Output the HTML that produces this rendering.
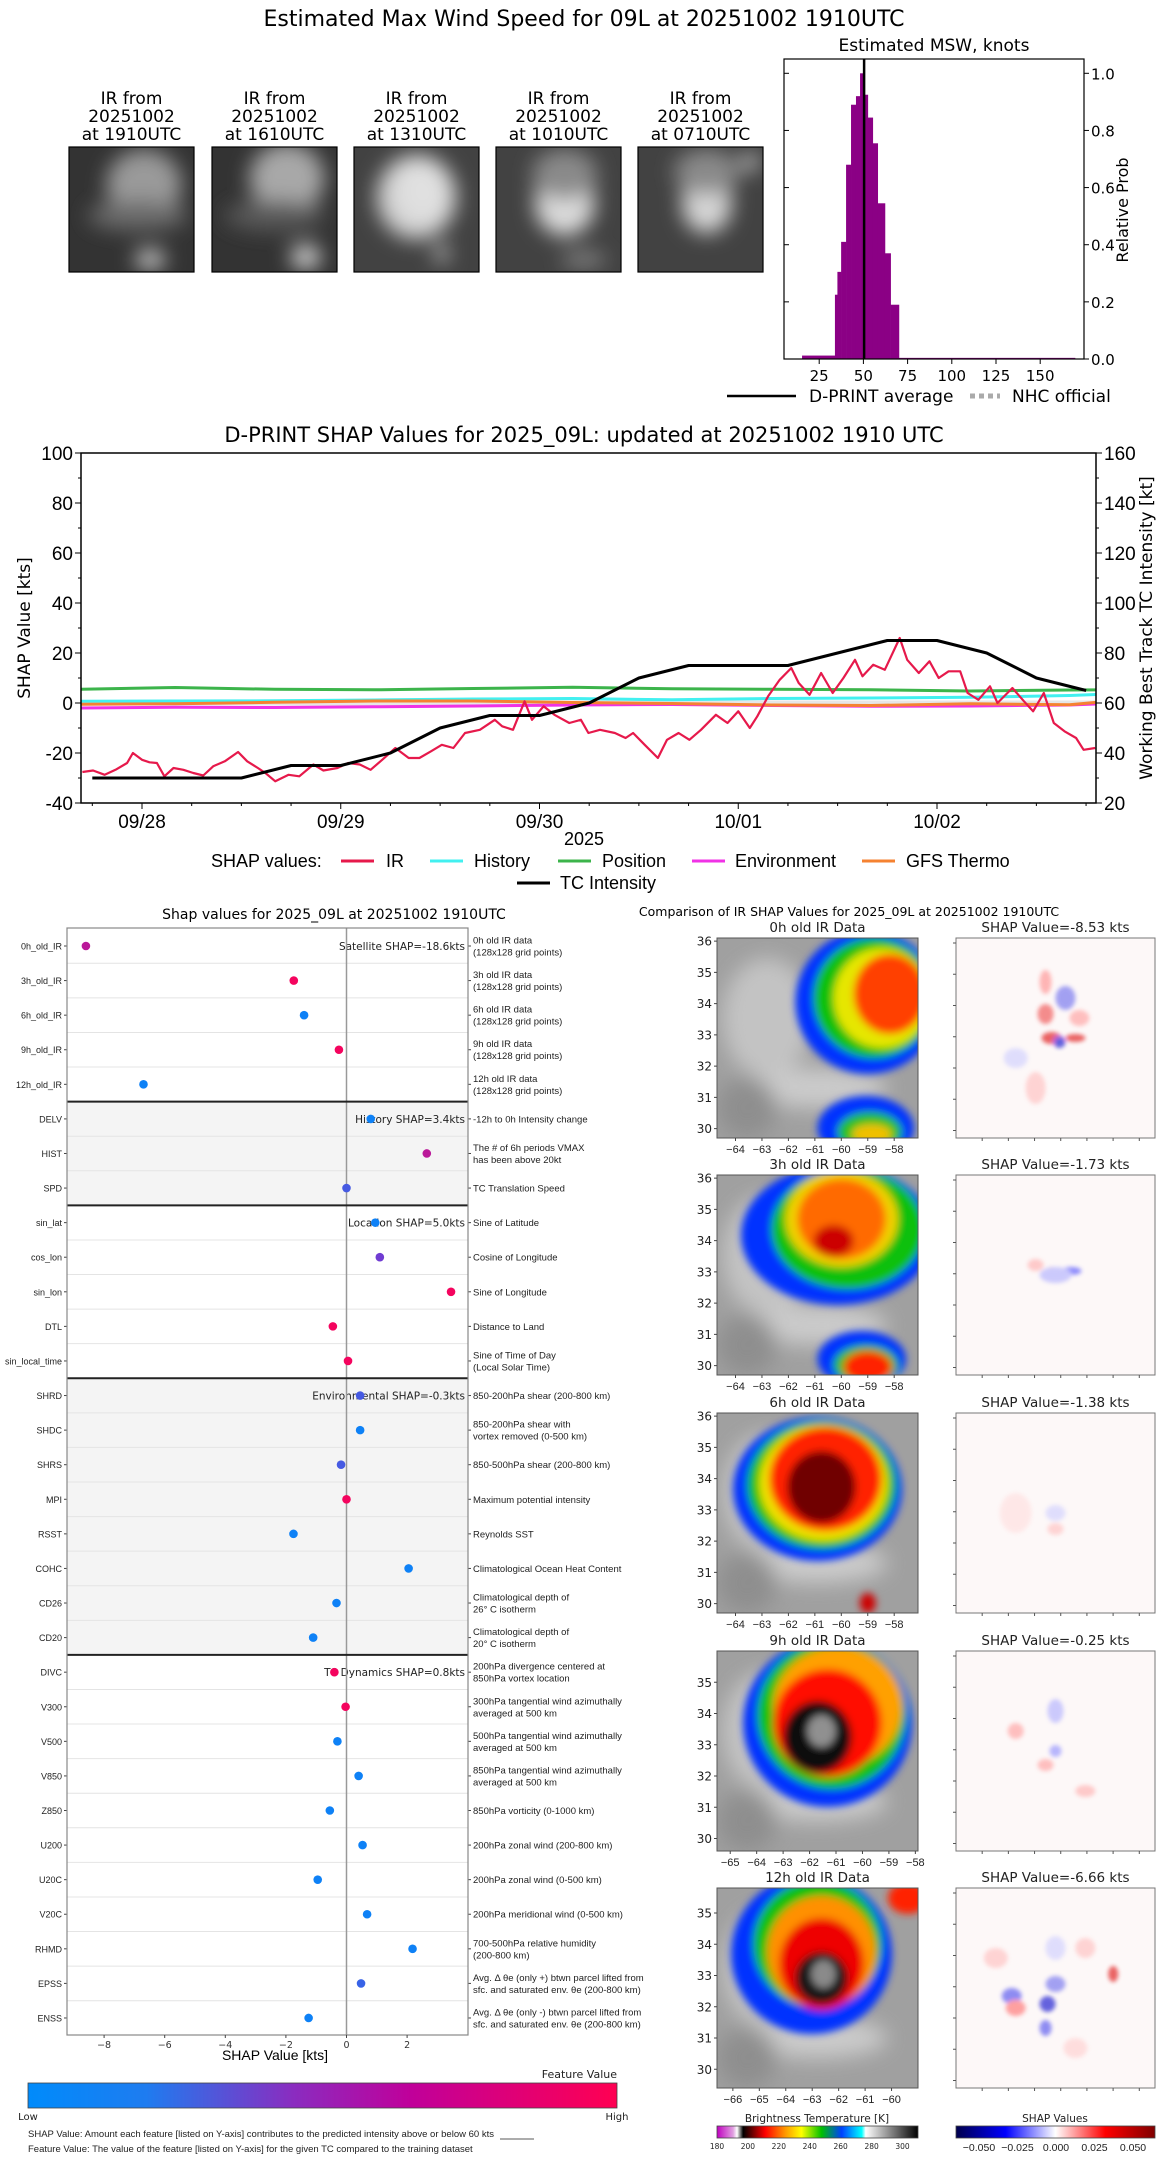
<!DOCTYPE html>
<html><head><meta charset="utf-8">
<style>
html,body{margin:0;padding:0;background:#fff;}
svg{display:block;font-family:"DejaVu Sans","Liberation Sans",sans-serif;}
</style></head>
<body>
<svg id="root" width="1168" height="2158" viewBox="0 0 1168 2158" xmlns="http://www.w3.org/2000/svg">
<defs>
<filter id="blur4" x="-20%" y="-20%" width="140%" height="140%"><feGaussianBlur stdDeviation="4"/></filter>
<filter id="blur2" x="-20%" y="-20%" width="140%" height="140%"><feGaussianBlur stdDeviation="2"/></filter>
<filter id="blur8" x="-30%" y="-30%" width="160%" height="160%"><feGaussianBlur stdDeviation="10"/></filter>
<linearGradient id="fvgrad" x1="0" x2="1" y1="0" y2="0">
<stop offset="0" stop-color="#008bfb"/><stop offset="0.2" stop-color="#1e7cf0"/><stop offset="0.45" stop-color="#8a2cc0"/><stop offset="0.65" stop-color="#c0009a"/><stop offset="1" stop-color="#ff0052"/></linearGradient>
<linearGradient id="btgrad" x1="0" x2="1" y1="0" y2="0">
<stop offset="0" stop-color="#c000c0"/><stop offset="0.08" stop-color="#e0a0e0"/><stop offset="0.1" stop-color="#fff"/><stop offset="0.13" stop-color="#000"/><stop offset="0.24" stop-color="#ff0000"/><stop offset="0.34" stop-color="#ff9900"/><stop offset="0.42" stop-color="#ffff00"/><stop offset="0.52" stop-color="#00c000"/><stop offset="0.62" stop-color="#0040ff"/><stop offset="0.72" stop-color="#00ffff"/><stop offset="0.74" stop-color="#ffffff"/><stop offset="1" stop-color="#000"/></linearGradient>
<linearGradient id="shgrad" x1="0" x2="1" y1="0" y2="0">
<stop offset="0" stop-color="#00004c"/><stop offset="0.25" stop-color="#0000ff"/><stop offset="0.5" stop-color="#ffffff"/><stop offset="0.75" stop-color="#ff0000"/><stop offset="1" stop-color="#800000"/></linearGradient>
</defs>
<g id="topsec"></g>
<g id="tssec"></g>
<g id="dotsec"></g>
<g id="irsec"></g>
</svg>
<script>
// ===== Histogram data =====
const histEdges = [15.3, 33.9, 35.3, 37.4, 40.2, 43.0, 45.8, 48.1, 50.4, 52.5, 55.3, 58.1, 62.2, 65.4, 70.1, 169.7];
const histProbs = [0.012, 0.225, 0.305, 0.41, 0.68, 0.89, 0.92, 1.0, 0.925, 0.845, 0.755, 0.545, 0.37, 0.19, 0.004];
const histMean = 50.4;
const histXTicks = [25, 50, 75, 100, 125, 150];
const histYTicks = [0.0, 0.2, 0.4, 0.6, 0.8, 1.0];
const thumbLabels = ["20251002|at 1910UTC", "20251002|at 1610UTC", "20251002|at 1310UTC", "20251002|at 1010UTC", "20251002|at 0710UTC"];

// ===== Time series data (hours since 2025-09-28 00Z) =====
const irHours = [-7.2,-5.9,-4.5,-3.2,-1.8,-1.1,0,0.9,1.8,2.7,3.8,5.0,6.2,7.4,8.6,10.0,11.6,12.7,14.0,14.9,16.1,17.7,19.0,20.7,21.9,23.6,24.9,26.3,27.6,29.0,30.6,32.2,33.5,34.9,36.2,37.6,39.0,40.8,42.6,43.5,44.8,46.2,47.1,48.5,49.8,51.6,53.0,53.9,55.3,57.1,58.4,59.3,60.7,62.3,63.4,64.8,66.1,67.5,69.3,70.7,72.0,73.4,74.3,75.6,77.0,78.4,79.3,80.6,82.0,83.4,84.7,86.1,87.0,88.3,89.7,91.5,92.4,93.8,95.1,96.2,97.4,98.8,99.7,101.0,102.4,103.3,105.1,106.5,107.6,108.9,110.1,111.4,112.8,113.7,115.1];
const irShap = [-27.6,-27,-28.7,-26.7,-24,-20,-22.7,-23.7,-24,-29.3,-26,-26.7,-28,-29,-25.3,-23.3,-19.6,-23.3,-26,-28,-31.3,-28.7,-29.3,-24.6,-27,-26,-24,-24.6,-26.7,-22.7,-18,-22,-22,-19.3,-16.7,-18,-12,-10.7,-6.7,-9.3,-10.7,0.7,-6.7,-1.3,-4.7,-8,-6.7,-12,-10.7,-12,-14,-12,-16.7,-22,-14.7,-12,-14.7,-10.7,-4.7,-8,-3.3,-10,-5.3,2.7,9.3,14,8,3.3,12,4,10,17.3,10.7,15.3,13.3,26,17.3,12,16.7,10,12.7,12.7,4,1.3,6.7,0,6,0.7,-3.3,4,-8,-11.3,-14,-18.7,-18];
const smoothHours = [-8, 4, 16, 28, 40, 52, 64, 76, 88, 100, 112, 116];
const historyShap = [0.7, 0.8, 0.9, 1.2, 1.6, 1.8, 1.3, 1.8, 2.0, 2.3, 3.0, 3.5];
const positionShap = [5.5, 6.2, 5.5, 5.3, 5.8, 6.3, 5.7, 5.5, 5.3, 4.8, 5.2, 5.3];
const envShap = [-2.0, -1.7, -1.8, -1.5, -1.2, -0.8, -0.6, -1.0, -1.3, -1.2, -0.8, -0.3];
const gfsShap = [-0.5, -0.3, 0.3, 0.8, 0.8, 0.2, -0.2, -0.8, -1.0, -0.3, -0.7, 0.5];
const tcHours = [-6, 0, 6, 12, 18, 24, 30, 36, 42, 48, 54, 60, 66, 72, 78, 84, 90, 96, 102, 108, 114];
const tcIntensity = [30, 30, 30, 30, 35, 35, 40, 50, 55, 55, 60, 70, 75, 75, 75, 80, 85, 85, 80, 70, 65];
const tsDateLabels = ["09/28", "09/29", "09/30", "10/01", "10/02"];
const tsLeftTicks = [-40, -20, 0, 20, 40, 60, 80, 100];
const tsRightTicks = [20, 40, 60, 80, 100, 120, 140, 160];

// ===== SHAP dot panel =====
const featNames = ["0h_old_IR","3h_old_IR","6h_old_IR","9h_old_IR","12h_old_IR","DELV","HIST","SPD","sin_lat","cos_lon","sin_lon","DTL","sin_local_time","SHRD","SHDC","SHRS","MPI","RSST","COHC","CD26","CD20","DIVC","V300","V500","V850","Z850","U200","U20C","V20C","RHMD","EPSS","ENSS"];
const featShap = [-8.6,-1.74,-1.4,-0.25,-6.7,0.8,2.65,0.0,0.95,1.1,3.45,-0.45,0.05,0.45,0.45,-0.18,0.0,-1.75,2.05,-0.33,-1.1,-0.4,-0.03,-0.3,0.4,-0.55,0.53,-0.95,0.68,2.18,0.48,-1.25];
const featValue = [0.7,0.95,0.05,0.95,0.05,0.05,0.7,0.25,0.05,0.4,0.95,0.95,0.95,0.25,0.05,0.25,0.95,0.05,0.05,0.05,0.05,0.95,0.95,0.05,0.05,0.05,0.05,0.05,0.05,0.05,0.2,0.05];
const featDesc = ["0h old IR data|(128x128 grid points)","3h old IR data|(128x128 grid points)","6h old IR data|(128x128 grid points)","9h old IR data|(128x128 grid points)","12h old IR data|(128x128 grid points)","-12h to 0h Intensity change","The # of 6h periods VMAX|has been above 20kt","TC Translation Speed","Sine of Latitude","Cosine of Longitude","Sine of Longitude","Distance to Land","Sine of Time of Day|(Local Solar Time)","850-200hPa shear (200-800 km)","850-200hPa shear with|vortex removed (0-500 km)","850-500hPa shear (200-800 km)","Maximum potential intensity","Reynolds SST","Climatological Ocean Heat Content","Climatological depth of|26° C isotherm","Climatological depth of|20° C isotherm","200hPa divergence centered at|850hPa vortex location","300hPa tangential wind azimuthally|averaged at 500 km","500hPa tangential wind azimuthally|averaged at 500 km","850hPa tangential wind azimuthally|averaged at 500 km","850hPa vorticity (0-1000 km)","200hPa zonal wind (200-800 km)","200hPa zonal wind (0-500 km)","200hPa meridional wind (0-500 km)","700-500hPa relative humidity|(200-800 km)","Avg. Δ θe (only +) btwn parcel lifted from|sfc. and saturated env. θe (200-800 km)","Avg. Δ θe (only -) btwn parcel lifted from|sfc. and saturated env. θe (200-800 km)"];
const groupNames = ["Satellite SHAP=-18.6kts","History SHAP=3.4kts","Location SHAP=5.0kts","Environmental SHAP=-0.3kts","TC Dynamics SHAP=0.8kts"];
const groupSizes = [5, 3, 5, 8, 11];
const dotXTicks = [-8, -6, -4, -2, 0, 2];
const irTitles = ["0h old IR Data","3h old IR Data","6h old IR Data","9h old IR Data","12h old IR Data"];
const shapTitles = ["SHAP Value=-8.53 kts","SHAP Value=-1.73 kts","SHAP Value=-1.38 kts","SHAP Value=-0.25 kts","SHAP Value=-6.66 kts"];
const btTicks = [180, 200, 220, 240, 260, 280, 300];
const shTicks = ["\u22120.050","\u22120.025","0.000","0.025","0.050"];

const NS = "http://www.w3.org/2000/svg";
function mk(parent, tag, attrs, text) {
  const e = document.createElementNS(NS, tag);
  for (const k in attrs) e.setAttribute(k, attrs[k]);
  if (text !== undefined) e.textContent = text;
  parent.appendChild(e);
  return e;
}
function mkText(parent, x, y, s, size, anchor, extra) {
  const a = {x: x, y: y, "font-size": size, "text-anchor": anchor || "start", fill: "#000"};
  if (extra) for (const k in extra) a[k] = extra[k];
  return mk(parent, "text", a, s);
}
const NARROW = {"font-family": "Liberation Sans Narrow, Liberation Sans, sans-serif"};

// ================= TOP SECTION =================
const topG = document.getElementById("topsec");
let tt = mkText(topG, 584, 26, "Estimated Max Wind Speed for 09L at 20251002 1910UTC", 22, "middle");



const thumbX = [69, 212, 354, 496, 638];
const thumbStyles = [
  [[0.6,0.3,0.3,0.28,"#9a9a9a"],[0.55,0.55,0.4,0.12,"#6a6a6a"],[0.65,0.9,0.12,0.08,"#cfcfcf"]],
  [[0.6,0.25,0.3,0.28,"#a8a8a8"],[0.5,0.55,0.4,0.12,"#5a5a5a"],[0.75,0.88,0.12,0.1,"#d6d6d6"]],
  [[0.5,0.4,0.32,0.34,"#cfcfcf"],[0.55,0.35,0.22,0.26,"#e0e0e0"],[0.7,0.85,0.05,0.08,"#cccccc"]],
  [[0.55,0.45,0.24,0.26,"#dcdcdc"],[0.55,0.22,0.26,0.2,"#8a8a8a"],[0.7,0.9,0.18,0.06,"#8a8a8a"]],
  [[0.55,0.45,0.2,0.24,"#d6d6d6"],[0.55,0.2,0.26,0.18,"#8a8a8a"],[0.9,0.12,0.07,0.07,"#cccccc"]]
];
for (let i = 0; i < 5; i++) {
  const g = mk(topG, "g", {});
  
  
  const x0 = thumbX[i], y0 = 147, w = 125, h = 125;
  mkText(g, x0 + w/2, 104, "IR from", 17, "middle");
  const parts = thumbLabels[i].split("|");
  mkText(g, x0 + w/2, 122, parts[0], 17, "middle");
  mkText(g, x0 + w/2, 140, parts[1], 17, "middle");
  const cp = mk(g, "clipPath", {id: "thc" + i});
  mk(cp, "rect", {x: x0, y: y0, width: w, height: h});
  const ig = mk(g, "g", {"clip-path": "url(#thc" + i + ")"});
  mk(ig, "rect", {x: x0, y: y0, width: w, height: h, fill: i < 2 ? "#333" : "#424242"});
  const bl = mk(ig, "g", {filter: "url(#blur8)"});
  thumbStyles[i].forEach(s => mk(bl, "ellipse", {cx: x0 + s[0]*w, cy: y0 + s[1]*h, rx: s[2]*w, ry: s[3]*h, fill: s[4]}));
  mk(g, "rect", {x: x0, y: y0, width: w, height: h, fill: "none", stroke: "#000", "stroke-width": 1.2});
}

// Histogram
const hg = mk(topG, "g", {});


const HX0 = 784, HX1 = 1084, HY0 = 59, HY1 = 359;
const hx = k => 775 + k * 1.768;
const hy = p => HY1 - p * 285.7;
mkText(hg, 934, 51, "Estimated MSW, knots", 17, "middle");
for (let i = 0; i < histProbs.length; i++) {
  const r = mk(hg, "rect", {x: hx(histEdges[i]), y: hy(histProbs[i]), width: hx(histEdges[i+1]) - hx(histEdges[i]) + 0.3, height: HY1 - hy(histProbs[i]), fill: "#8b0085"});
  
  
}
const ml = mk(hg, "line", {x1: hx(histMean), x2: hx(histMean), y1: HY0, y2: HY1, stroke: "#000", "stroke-width": 2.5});


mk(hg, "rect", {x: HX0, y: HY0, width: HX1 - HX0, height: HY1 - HY0, fill: "none", stroke: "#000", "stroke-width": 1.2});
histXTicks.forEach(v => {
  mk(hg, "line", {x1: hx(v), x2: hx(v), y1: HY1, y2: HY1 + 5, stroke: "#000"});
  mkText(hg, hx(v), HY1 + 22, String(v), 15, "middle");
});
histYTicks.forEach(v => {
  mk(hg, "line", {x1: HX1, x2: HX1 + 5, y1: hy(v), y2: hy(v), stroke: "#000"});
  mk(hg, "line", {x1: HX0, x2: HX0 + 5, y1: hy(v), y2: hy(v), stroke: "#000"});
  mkText(hg, HX1 + 7, hy(v) + 6, v.toFixed(1), 15, "start");
});
mkText(hg, 1128, 210, "Relative Prob", 16, "middle", {transform: "rotate(-90 1128 210)"});
const hl = mk(topG, "g", {});


mk(hl, "line", {x1: 727, x2: 796, y1: 396, y2: 396, stroke: "#000", "stroke-width": 2.5});
mkText(hl, 809, 402, "D-PRINT average", 17, "start");
mk(hl, "line", {x1: 970, x2: 1000, y1: 396, y2: 396, stroke: "#aaa", "stroke-width": 5, "stroke-dasharray": "5 4"});
mkText(hl, 1012, 402, "NHC official", 17, "start");

// ================= TIME SERIES =================
const ts = document.getElementById("tssec");
const TX0 = 81, TX1 = 1096, TY0 = 453, TY1 = 803;
const tx = h => 142 + h * (198.75 / 24);
const tyL = v => TY0 + (100 - v) * 2.5;
const tyR = k => TY0 + (160 - k) * 2.5;
tt = mkText(ts, 584, 442, "D-PRINT SHAP Values for 2025_09L: updated at 20251002 1910 UTC", 21, "middle");


const cpt = mk(ts, "clipPath", {id: "tsclip"});
mk(cpt, "rect", {x: TX0, y: TY0, width: TX1 - TX0, height: TY1 - TY0});
const plotG = mk(ts, "g", {"clip-path": "url(#tsclip)"});
mk(plotG, "rect", {x: TX0, y: tyL(1), width: TX1 - TX0, height: tyL(-1) - tyL(1), fill: "#e6e6e6"});
function polyline(g, xs, ys, color, w, name) {
  const pts = xs.map((h, i) => tx(h).toFixed(1) + "," + ys[i].toFixed(1)).join(" ");
  const p = mk(g, "polyline", {points: pts, fill: "none", stroke: color, "stroke-width": w, "stroke-linejoin": "round"});
  
  
  return p;
}
polyline(plotG, smoothHours, positionShap.map(tyL), "#3cb44b", 3, "position-line");
polyline(plotG, smoothHours, historyShap.map(tyL), "#42f0f0", 3, "history-line");
polyline(plotG, smoothHours, envShap.map(tyL), "#f032e6", 3, "environment-line");
polyline(plotG, smoothHours, gfsShap.map(tyL), "#f58231", 3, "gfs-thermo-line");
polyline(plotG, irHours, irShap.map(tyL), "#e6194b", 2.2, "ir-line");
polyline(plotG, tcHours, tcIntensity.map(tyR), "#000", 3, "tc-intensity-line");
mk(ts, "rect", {x: TX0, y: TY0, width: TX1 - TX0, height: TY1 - TY0, fill: "none", stroke: "#000", "stroke-width": 1.5});
tsLeftTicks.forEach(v => {
  mk(ts, "line", {x1: TX0 - 6, x2: TX0, y1: tyL(v), y2: tyL(v), stroke: "#000"});
  mkText(ts, TX0 - 8, tyL(v) + 7, String(v), 19, "end", NARROW);
  if (v < 100) mk(ts, "line", {x1: TX0 - 3, x2: TX0, y1: tyL(v + 10), y2: tyL(v + 10), stroke: "#000"});
});
tsRightTicks.forEach(v => {
  mk(ts, "line", {x1: TX1, x2: TX1 + 6, y1: tyR(v), y2: tyR(v), stroke: "#000"});
  mkText(ts, TX1 + 8, tyR(v) + 7, String(v), 19, "start", NARROW);
  if (v < 160) mk(ts, "line", {x1: TX1, x2: TX1 + 3, y1: tyR(v + 10), y2: tyR(v + 10), stroke: "#000"});
});
for (let h = -6; h <= 114; h += 6) {
  const major = h % 24 === 0;
  mk(ts, "line", {x1: tx(h), x2: tx(h), y1: TY1, y2: TY1 + (major ? 6 : 3), stroke: "#000"});
}
tsDateLabels.forEach((s, i) => mkText(ts, tx(i * 24), TY1 + 25, s, 19, "middle", NARROW));
mkText(ts, 584, 845, "2025", 18, "middle", NARROW);
mkText(ts, 30, 628, "SHAP Value [kts]", 17, "middle", {transform: "rotate(-90 30 628)"});
mkText(ts, 1152, 628, "Working Best Track TC Intensity [kt]", 17, "middle", {transform: "rotate(-90 1152 628)"});
const lg = mk(ts, "g", {});


mkText(lg, 211, 867, "SHAP values:", 18, "start", NARROW);
const legItems = [["IR", "#e6194b", 341, 386], ["History", "#42f0f0", 430, 474], ["Position", "#3cb44b", 558, 602], ["Environment", "#f032e6", 692, 735], ["GFS Thermo", "#f58231", 862, 906]];
legItems.forEach(it => {
  mk(lg, "line", {x1: it[2], x2: it[2] + 33, y1: 861, y2: 861, stroke: it[1], "stroke-width": 3});
  mkText(lg, it[3], 867, it[0], 18, "start", NARROW);
});
mk(lg, "line", {x1: 517, x2: 550, y1: 883, y2: 883, stroke: "#000", "stroke-width": 3});
mkText(lg, 560, 889, "TC Intensity", 18, "start", NARROW);

// ================= DOT PANEL =================
const dp = document.getElementById("dotsec");
const DX0 = 67, DX1 = 468, DY0 = 928, DY1 = 2035;
const dx = v => 346.5 + v * 30.3;
const rowY = i => 946 + i * 34.58;
tt = mkText(dp, 334, 919, "Shap values for 2025_09L at 20251002 1910UTC", 14, "middle");


let startIdx = 0;
const sepYs = [];
groupSizes.forEach((n, gi) => {
  const yA = gi === 0 ? DY0 : rowY(startIdx) - 17.3;
  const yB = gi === groupSizes.length - 1 ? DY1 : rowY(startIdx + n - 1) + 17.3;
  if (gi === 1 || gi === 3) mk(dp, "rect", {x: DX0, y: yA, width: DX1 - DX0, height: yB - yA, fill: "#f4f4f4"});
  if (gi > 0) sepYs.push(yA);
  const gl = mkText(dp, DX1 - 3, rowY(startIdx) + 4, groupNames[gi], 10.5, "end", {fill: "#222"});
  
  
  startIdx += n;
});
for (let i = 0; i < featNames.length - 1; i++) {
  mk(dp, "line", {x1: DX0, x2: DX1, y1: rowY(i) + 17.3, y2: rowY(i) + 17.3, stroke: "#e4e4e4", "stroke-width": 1});
}
mk(dp, "line", {x1: dx(0), x2: dx(0), y1: DY0, y2: DY1, stroke: "#999", "stroke-width": 1.5});
sepYs.forEach(y => mk(dp, "line", {x1: DX0, x2: DX1, y1: y, y2: y, stroke: "#222", "stroke-width": 2}));
function mixColor(f) {
  const a = [0, 139, 251], b = [255, 0, 82], m = [140, 40, 200];
  let c;
  if (f < 0.5) { const u = f / 0.5; c = a.map((v, i) => v + (m[i] - v) * u); }
  else { const u = (f - 0.5) / 0.5; c = m.map((v, i) => v + (b[i] - v) * u); }
  return "rgb(" + c.map(Math.round).join(",") + ")";
}
featNames.forEach((nm, i) => {
  const y = rowY(i);
  mkText(dp, DX0 - 5, y + 3.5, nm, 9, "end", {fill: "#222", "font-family": "Liberation Sans, sans-serif"});
  mk(dp, "line", {x1: DX0 - 3, x2: DX0, y1: y, y2: y, stroke: "#444"});
  mk(dp, "line", {x1: DX1, x2: DX1 + 3, y1: y, y2: y, stroke: "#444"});
  const lines = featDesc[i].split("|");
  lines.forEach((l, j) => mkText(dp, DX1 + 5, y + 3.5 + (j - (lines.length - 1) / 2) * 12, l, 9.5, "start", {fill: "#222", "font-family": "Liberation Sans, sans-serif"}));
  const c = mk(dp, "circle", {cx: dx(featShap[i]), cy: y, r: 4.3, fill: mixColor(featValue[i])});
  
  
});
mk(dp, "rect", {x: DX0, y: DY0, width: DX1 - DX0, height: DY1 - DY0, fill: "none", stroke: "#888", "stroke-width": 1.2});
dotXTicks.forEach(v => {
  mk(dp, "line", {x1: dx(v), x2: dx(v), y1: DY1, y2: DY1 + 3, stroke: "#444"});
  mkText(dp, dx(v), DY1 + 13, v < 0 ? "\u2212" + (-v) : String(v), 9.5, "middle", {fill: "#333"});
});
mkText(dp, 275, 2060, "SHAP Value [kts]", 14, "middle", NARROW);
const cb = mk(dp, "g", {});


mkText(cb, 617, 2078, "Feature Value", 11, "end", {fill: "#222"});
mk(cb, "rect", {x: 28, y: 2083, width: 589, height: 25, fill: "url(#fvgrad)", stroke: "#444", "stroke-width": 0.8});
mkText(cb, 28, 2120, "Low", 10, "middle", {fill: "#222"});
mkText(cb, 617, 2120, "High", 10, "middle", {fill: "#222"});
mkText(dp, 28, 2137, "SHAP Value: Amount each feature [listed on Y-axis] contributes to the predicted intensity above or below 60 kts", 9.5, "start", {fill: "#222", "font-family": "Liberation Sans, sans-serif"});
mk(dp, "line", {x1: 500, x2: 534, y1: 2139, y2: 2139, stroke: "#222", "stroke-width": 0.8});
mkText(dp, 28, 2152, "Feature Value: The value of the feature [listed on Y-axis] for the given TC compared to the training dataset", 9.5, "start", {fill: "#222", "font-family": "Liberation Sans, sans-serif"});

// ================= IR COMPARISON =================
const irG = document.getElementById("irsec");
tt = mkText(irG, 849, 916, "Comparison of IR SHAP Values for 2025_09L at 20251002 1910UTC", 12.5, "middle");


const rowTops = [938, 1175, 1413, 1651, 1888];
const IX0 = 717, IW = 201, SX0 = 956, SW = 199, PH = 200;
const blobs = [
  [[0.75,0.32,0.36,0.36,"#0030ff"],[0.78,0.3,0.3,0.3,"#10c010"],[0.82,0.3,0.24,0.25,"#e6e600"],[0.86,0.28,0.18,0.2,"#ff4000"],[0.74,0.95,0.24,0.16,"#0030ff"],[0.76,0.97,0.16,0.1,"#20c020"],[0.77,0.98,0.1,0.05,"#f0c000"]],
  [[0.6,0.3,0.48,0.35,"#0030ff"],[0.65,0.27,0.38,0.3,"#10c010"],[0.62,0.22,0.28,0.24,"#f0d000"],[0.62,0.22,0.22,0.2,"#ff6a00"],[0.58,0.33,0.1,0.08,"#cc0000"],[0.72,0.92,0.22,0.14,"#0030ff"],[0.74,0.95,0.16,0.1,"#20c020"],[0.75,0.96,0.12,0.08,"#ff2000"]],
  [[0.5,0.38,0.42,0.36,"#0030ff"],[0.52,0.36,0.37,0.32,"#10c010"],[0.53,0.35,0.32,0.29,"#f0e000"],[0.54,0.33,0.28,0.26,"#ff2000"],[0.52,0.37,0.17,0.18,"#700000"],[0.75,0.95,0.04,0.05,"#cc0000"]],
  [[0.55,0.36,0.42,0.42,"#0030ff"],[0.57,0.32,0.37,0.37,"#10c010"],[0.6,0.28,0.32,0.3,"#ffa000"],[0.55,0.36,0.27,0.27,"#ff1000"],[0.5,0.43,0.17,0.18,"#101010"],[0.52,0.4,0.07,0.08,"#909090"]],
  [[0.47,0.33,0.4,0.4,"#0030ff"],[0.5,0.28,0.32,0.32,"#10c010"],[0.52,0.32,0.27,0.28,"#ff9000"],[0.52,0.38,0.21,0.23,"#ee0000"],[0.52,0.45,0.13,0.13,"#151515"],[0.53,0.43,0.06,0.07,"#8a8a8a"],[0.95,0.05,0.1,0.08,"#ff2000"]]
];
const latTicks = [[30,31,32,33,34,35,36],[30,31,32,33,34,35,36],[30,31,32,33,34,35,36],[30,31,32,33,34,35],[30,31,32,33,34,35]];
const lonTicks = [[-64,-63,-62,-61,-60,-59,-58],[-64,-63,-62,-61,-60,-59,-58],[-64,-63,-62,-61,-60,-59,-58],[-65,-64,-63,-62,-61,-60,-59,-58],[-66,-65,-64,-63,-62,-61,-60]];
const latRange = [[29.7,36.1],[29.7,36.1],[29.7,36.1],[29.6,36.0],[29.4,35.8]];
const lonRange = [[-64.7,-57.1],[-64.7,-57.1],[-64.7,-57.1],[-65.5,-57.9],[-66.6,-59.0]];
const shapSpots = [
  [[0.48,0.5,0.05,0.03,"#dd0000"],[0.6,0.5,0.05,0.02,"#dd0000"],[0.52,0.52,0.03,0.03,"#0000cc"],[0.45,0.38,0.04,0.05,"#ee4444"],[0.55,0.3,0.05,0.06,"#6666ee"],[0.45,0.22,0.03,0.06,"#ff8888"],[0.3,0.6,0.06,0.05,"#ccccff"],[0.62,0.4,0.05,0.04,"#ff9999"],[0.4,0.75,0.05,0.08,"#ffbbbb"]],
  [[0.48,0.49,0.03,0.03,"#cc0000"],[0.58,0.48,0.05,0.02,"#4444ff"],[0.5,0.5,0.08,0.04,"#aaaaff"],[0.4,0.45,0.04,0.03,"#ffaaaa"]],
  [[0.5,0.5,0.05,0.04,"#ccccff"],[0.5,0.58,0.04,0.03,"#ffbbbb"],[0.3,0.5,0.08,0.1,"#ffdddd"]],
  [[0.5,0.5,0.03,0.03,"#8888ff"],[0.45,0.57,0.04,0.03,"#ff9999"],[0.3,0.4,0.04,0.04,"#ff9999"],[0.5,0.3,0.04,0.06,"#aaaaff"],[0.65,0.7,0.05,0.03,"#ffaaaa"]],
  [[0.46,0.58,0.04,0.04,"#0000cc"],[0.28,0.54,0.05,0.04,"#4444ee"],[0.79,0.43,0.025,0.04,"#dd0000"],[0.3,0.6,0.05,0.04,"#ff6666"],[0.5,0.48,0.05,0.04,"#6666ee"],[0.45,0.7,0.03,0.04,"#4444ee"],[0.5,0.3,0.05,0.06,"#ccccff"],[0.2,0.35,0.06,0.05,"#ffbbbb"],[0.65,0.3,0.05,0.05,"#ffbbbb"],[0.6,0.8,0.06,0.05,"#ffcccc"]]
];
for (let r = 0; r < 5; r++) {
  const y0 = rowTops[r];
  const g = mk(irG, "g", {});
  
  
  mkText(g, IX0 + IW / 2, y0 - 6, irTitles[r], 13.5, "middle", {fill: "#222"});
  const cp = mk(g, "clipPath", {id: "irc" + r});
  mk(cp, "rect", {x: IX0, y: y0, width: IW, height: PH});
  const ig = mk(g, "g", {"clip-path": "url(#irc" + r + ")"});
  mk(ig, "rect", {x: IX0, y: y0, width: IW, height: PH, fill: "#a0a0a0"});
  const cl = mk(ig, "g", {filter: "url(#blur8)", opacity: 0.8});
  mk(cl, "ellipse", {cx: IX0 + 0.25 * IW, cy: y0 + 0.4 * PH, rx: 45, ry: 60, fill: "#cccccc"});
  mk(cl, "ellipse", {cx: IX0 + 0.5 * IW, cy: y0 + 0.75 * PH, rx: 70, ry: 20, fill: "#d6d6d6"});
  mk(cl, "ellipse", {cx: IX0 + 0.15 * IW, cy: y0 + 0.85 * PH, rx: 30, ry: 30, fill: "#8a8a8a"});
  const bl = mk(ig, "g", {filter: "url(#blur4)"});
  blobs[r].forEach(s => mk(bl, "ellipse", {cx: IX0 + s[0] * IW, cy: y0 + s[1] * PH, rx: s[2] * IW, ry: s[3] * PH, fill: s[4]}));
  mk(g, "rect", {x: IX0, y: y0, width: IW, height: PH, fill: "none", stroke: "#555", "stroke-width": 1});
  const lr = latRange[r], orr = lonRange[r];
  latTicks[r].forEach(v => {
    const yy = y0 + PH - (v - lr[0]) / (lr[1] - lr[0]) * PH;
    mk(g, "line", {x1: IX0 - 3, x2: IX0, y1: yy, y2: yy, stroke: "#444"});
    mkText(g, IX0 - 5, yy + 4.5, String(v), 12, "end", {fill: "#222"});
  });
  lonTicks[r].forEach(v => {
    const xx = IX0 + (v - orr[0]) / (orr[1] - orr[0]) * IW;
    mk(g, "line", {x1: xx, x2: xx, y1: y0 + PH, y2: y0 + PH + 3, stroke: "#444"});
    mkText(g, xx, y0 + PH + 15, "\u2212" + (-v), 11, "middle", {fill: "#222", "font-family": "Liberation Sans, sans-serif"});
  });
  const sg = mk(irG, "g", {});
  
  
  mkText(sg, SX0 + SW / 2, y0 - 6, shapTitles[r], 13.5, "middle", {fill: "#222"});
  const cp2 = mk(sg, "clipPath", {id: "shc" + r});
  mk(cp2, "rect", {x: SX0, y: y0, width: SW, height: PH});
  const sgi = mk(sg, "g", {"clip-path": "url(#shc" + r + ")"});
  mk(sgi, "rect", {x: SX0, y: y0, width: SW, height: PH, fill: "#fdf8f8"});
  const sb = mk(sgi, "g", {filter: "url(#blur2)", opacity: 0.6});
  shapSpots[r].forEach(s => mk(sb, "ellipse", {cx: SX0 + s[0] * SW, cy: y0 + s[1] * PH, rx: s[2] * SW, ry: s[3] * PH, fill: s[4]}));
  mk(sg, "rect", {x: SX0, y: y0, width: SW, height: PH, fill: "none", stroke: "#777", "stroke-width": 1});
  for (let k = 1; k <= 7; k++) {
    const xx = SX0 + k * SW / 7.6;
    mk(sg, "line", {x1: xx, x2: xx, y1: y0 + PH, y2: y0 + PH + 3, stroke: "#555"});
  }
  for (let k = 0; k < 7; k++) {
    const yy = y0 + 5 + k * PH / 6.4;
    mk(sg, "line", {x1: SX0 - 3, x2: SX0, y1: yy, y2: yy, stroke: "#555"});
  }
}
const btc = mk(irG, "g", {});


mkText(btc, 817, 2122, "Brightness Temperature [K]", 10.5, "middle", {fill: "#222"});
mk(btc, "rect", {x: 717, y: 2126, width: 201, height: 12, fill: "url(#btgrad)", stroke: "#444", "stroke-width": 0.8});
btTicks.forEach(v => {
  const xx = 717 + (v - 180) / 130 * 201;
  mkText(btc, xx, 2149, String(v), 7.5, "middle", {fill: "#222"});
});
const shcb = mk(irG, "g", {});


mkText(shcb, 1055, 2122, "SHAP Values", 10.5, "middle", {fill: "#222"});
mk(shcb, "rect", {x: 956, y: 2126, width: 199, height: 12, fill: "url(#shgrad)", stroke: "#444", "stroke-width": 0.8});
shTicks.forEach((s, i) => {
  const xx = 956 + 23 + i * 38.5;
  mkText(shcb, xx, 2151, s, 10.5, "middle", {fill: "#222", "font-family": "Liberation Sans, sans-serif"});
});
</script>
</body></html>
